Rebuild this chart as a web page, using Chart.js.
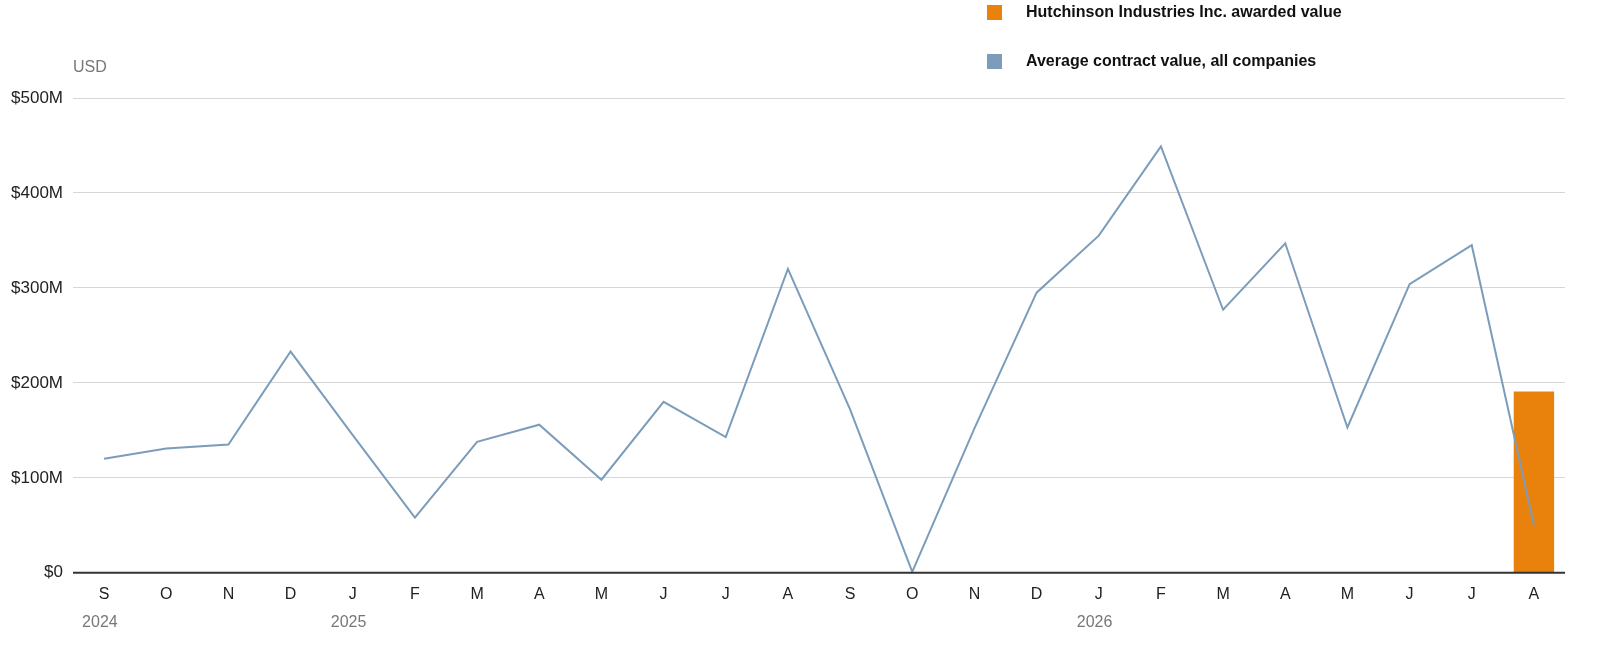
<!DOCTYPE html>
<html><head><meta charset="utf-8">
<script src="https://cdn.jsdelivr.net/npm/chart.js@4"></script>
<style>
body{margin:0;background:#fff;font-family:"Liberation Sans",Arial,sans-serif}
#wrap{position:relative;width:1610px;height:656px}
.lg{position:absolute;left:987px;font-weight:bold;font-size:16px;color:#111;display:flex;align-items:center}
.lg span{display:inline-block;width:15px;height:15px;margin-right:24px}
</style></head><body>
<div id="wrap">
<canvas id="c" width="1610" height="656"></canvas>
<div class="lg" style="top:3px"><span style="background:#e8820c"></span>Hutchinson Industries Inc. awarded value</div>
<div class="lg" style="top:52px"><span style="background:#7c9cbb"></span>Average contract value, all companies</div>
</div>
<script>
var months = ['S','O','N','D','J','F','M','A','M','J','J','A','S','O','N','D','J','F','M','A','M','J','J','A'];
var years = [{idx:0, text:'2024'}, {idx:4, text:'2025'}, {idx:16, text:'2026'}];
var avgValue = [120,131,135,233,145,58,138,156,98,180,143,320,172,1,152,295,355,449,277,347,153,304,345,50];
var hutchValue = [null,null,null,null,null,null,null,null,null,null,null,null,null,null,null,null,null,null,null,null,null,null,null,191];

var extras = {
    id: 'extras',
    afterDraw: function(chart) {
        var ctx = chart.ctx, x = chart.scales.x, y = chart.scales.y;
        ctx.save();
        ctx.fillStyle = '#777';
        ctx.font = '16px "Liberation Sans", Arial';
        ctx.textBaseline = 'middle';
        ctx.fillText('USD', 73, 68);
        years.forEach(function(yr) {
            ctx.fillText(yr.text, x.getPixelForValue(yr.idx) - 22, 623);
        });
        // baseline
        ctx.strokeStyle = '#333';
        ctx.lineWidth = 2;
        ctx.beginPath();
        ctx.moveTo(chart.chartArea.left, y.getPixelForValue(0));
        ctx.lineTo(chart.chartArea.right, y.getPixelForValue(0));
        ctx.stroke();
        ctx.restore();
    }
};

new Chart(document.getElementById('c'), {
    data: {
        labels: months,
        datasets: [{
            type: 'line',
            label: 'Average contract value, all companies',
            data: avgValue,
            borderColor: '#7c9cbb',
            borderWidth: 2,
            pointRadius: 0,
            tension: 0,
            order: 1
        }, {
            type: 'bar',
            label: 'Hutchinson Industries Inc. awarded value',
            data: hutchValue,
            backgroundColor: '#e8820c',
            barPercentage: 0.65,
            categoryPercentage: 1,
            order: 2
        }]
    },
    options: {
        responsive: false,
        animation: false,
        layout: { padding: { top: 98, right: 45, bottom: 48, left: 0 } },
        plugins: { legend: { display: false }, tooltip: { enabled: false } },
        scales: {
            x: {
                offset: true,
                grid: { display: false },
                border: { display: false },
                ticks: { color: '#222', font: { size: 16, family: '"Liberation Sans", Arial' }, padding: 4, maxRotation: 0, autoSkip: false }
            },
            y: {
                min: 0, max: 500,
                afterFit: function(s) { s.width = 73; },
                grid: { color: '#d6d6d6', drawTicks: false },
                border: { display: false },
                ticks: {
                    stepSize: 100, padding: 10, color: '#222',
                    font: { size: 17, family: '"Liberation Sans", Arial' },
                    callback: function(v) { return v === 0 ? '$0' : '$' + v + 'M'; }
                }
            }
        }
    },
    plugins: [extras]
});
</script>
</body></html>
